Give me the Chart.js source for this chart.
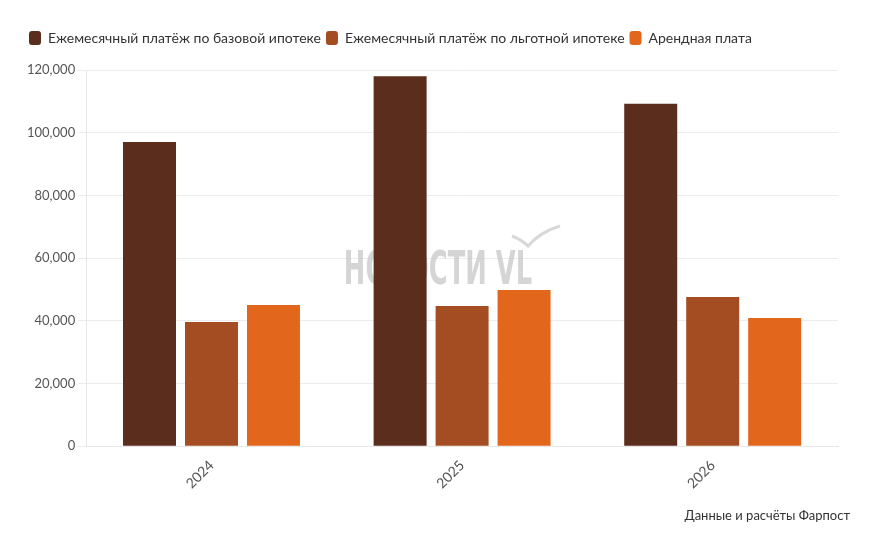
<!DOCTYPE html>
<html>
<head>
<meta charset="utf-8">
<script src="https://cdn.jsdelivr.net/npm/chart.js@4"></script>
<style>
  body { margin: 0; background: #fff; }
  #wrap { width: 892px; height: 536px; }
</style>
</head>
<body>
<div id="wrap"><canvas id="chart"></canvas></div>
<script>
// Данные
const years = ["2024", "2025", "2026"];
const basePayment = [97000, 118000, 109200];
const preferentialPayment = [39600, 44700, 47600];
const rent = [45000, 49800, 40900];
const seriesNames = [
    "Ежемесячный платёж по базовой ипотеке",
    "Ежемесячный платёж по льготной ипотеке",
    "Арендная плата"
];
const sourceText = "Данные и расчёты Фарпост";

const fontFamily = "Lato, 'Noto Sans', sans-serif";

// водяной знак за столбцами
const watermark = {
    id: "watermark",
    beforeDatasetsDraw(chart) {
        const ctx = chart.ctx;
        ctx.save();
        ctx.fillStyle = "rgba(195,195,195,0.7)";
        ctx.font = "bold 46px 'DejaVu Sans', sans-serif";
        ctx.textAlign = "center";
        ctx.textBaseline = "middle";
        ctx.translate(438, 272);
        ctx.scale(0.56, 1);
        ctx.fillText("НОВОСТИ VL", 0, 0);
        ctx.restore();
        ctx.save();
        ctx.strokeStyle = "rgba(200,200,200,0.7)";
        ctx.lineWidth = 3;
        ctx.beginPath();
        ctx.moveTo(512, 236);
        ctx.quadraticCurveTo(522, 240, 528, 246);
        ctx.quadraticCurveTo(540, 232, 560, 226);
        ctx.stroke();
        ctx.restore();
    }
};

// подпись источника и отступ под легендой
const extras = {
    id: "extras",
    beforeInit(chart) {
        const fit = chart.legend.fit;
        chart.legend.fit = function () {
            fit.bind(chart.legend)();
            this.height += 15;
        };
    },
    afterDraw(chart) {
        const ctx = chart.ctx;
        ctx.save();
        ctx.fillStyle = "#333";
        ctx.font = "13px " + fontFamily;
        ctx.textAlign = "right";
        ctx.textBaseline = "middle";
        ctx.fillText(sourceText, 850, 516);
        ctx.restore();
    }
};

new Chart(document.getElementById("chart"), {
    type: "bar",
    data: {
        labels: years,
        datasets: [
            { label: seriesNames[0], data: basePayment, backgroundColor: "#5a2d1c" },
            { label: seriesNames[1], data: preferentialPayment, backgroundColor: "#a44c22" },
            { label: seriesNames[2], data: rent, backgroundColor: "#e2661c" }
        ]
    },
    options: {
        responsive: true,
        maintainAspectRatio: false,
        animation: false,
        layout: { padding: { left: 24, right: 54, top: 26, bottom: 41 } },
        datasets: {
            bar: { barPercentage: 0.855, categoryPercentage: 0.742 }
        },
        plugins: {
            legend: {
                position: "top",
                align: "start",
                labels: {
                    color: "#333",
                    font: { family: fontFamily, size: 14 },
                    boxWidth: 12,
                    boxHeight: 14,
                    useBorderRadius: true,
                    borderRadius: 3,
                    padding: 5
                }
            },
            tooltip: { enabled: false }
        },
        scales: {
            x: {
                grid: { display: false },
                border: { color: "#e6e6e6" },
                ticks: {
                    color: "#555",
                    font: { family: fontFamily, size: 14 },
                    maxRotation: 45,
                    minRotation: 45
                }
            },
            y: {
                min: 0,
                max: 120000,
                grid: { color: "#ececec" },
                border: { color: "#e6e6e6" },
                ticks: {
                    stepSize: 20000,
                    color: "#555",
                    font: { family: fontFamily, size: 13 },
                    callback: (v) => v.toLocaleString("en-US")
                }
            }
        }
    },
    plugins: [watermark, extras]
});
</script>
</body>
</html>
